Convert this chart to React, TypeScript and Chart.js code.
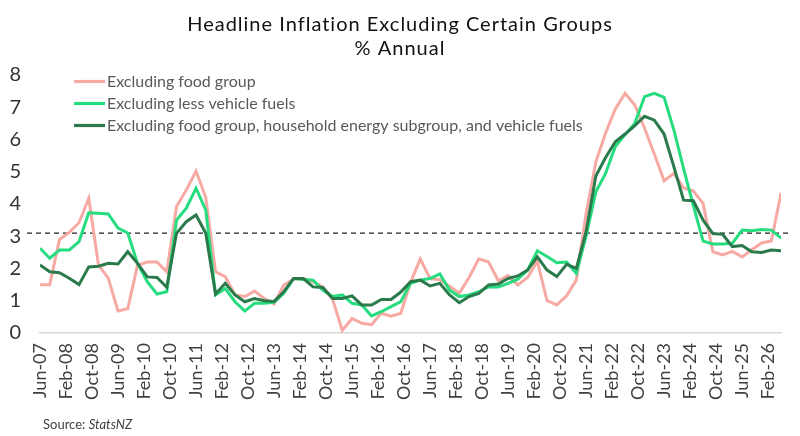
import { useEffect, useRef } from "react";
import { Chart, registerables } from "chart.js";

Chart.register(...registerables);

// ---------- data ----------
const TITLE_LINES = ["Headline Inflation Excluding Certain Groups", "% Annual"];
const SOURCE_PREFIX = "Source: ";
const SOURCE_NAME = "StatsNZ";

const SERIES_NAMES = [
  "Excluding food group",
  "Excluding less vehicle fuels",
  "Excluding food group, household energy subgroup, and vehicle fuels",
];

// Quarterly observations, first one June 2007, last one June 2026
const MONTH_NAMES = ["Jan", "Feb", "Mar", "Apr", "May", "Jun", "Jul", "Aug", "Sep", "Oct", "Nov", "Dec"];
const FIRST_MONTH = 5; // June
const FIRST_YEAR = 2007;
const MONTHS_PER_OBS = 3;

const EXCL_FOOD = [
  1.5, 1.5, 2.9, 3.12, 3.42, 4.18, 2.1, 1.7, 0.68, 0.75,
  2.1, 2.2, 2.2, 1.9, 3.92, 4.43, 5.02, 4.2, 1.9, 1.75,
  1.18, 1.13, 1.3, 1.07, 0.9, 1.49, 1.67, 1.69, 1.59, 1.43,
  1.05, 0.08, 0.45, 0.3, 0.26, 0.61, 0.52, 0.61, 1.57, 2.3,
  1.69, 1.65, 1.45, 1.23, 1.72, 2.3, 2.2, 1.62, 1.78, 1.49,
  1.72, 2.22, 1.0, 0.87, 1.15, 1.64, 3.7, 5.3, 6.2, 6.95,
  7.43, 7.07, 6.35, 5.55, 4.72, 4.95, 4.5, 4.4, 4.02, 2.52,
  2.42, 2.53, 2.36, 2.58, 2.79, 2.85, 4.35,
];

const EXCL_VEHICLE_FUELS = [
  2.63, 2.32, 2.57, 2.57, 2.83, 3.73, 3.71, 3.69, 3.25, 3.1,
  2.16, 1.59, 1.21, 1.28, 3.5, 3.87, 4.49, 3.81, 1.18, 1.38,
  0.97, 0.68, 0.92, 0.92, 0.95, 1.23, 1.69, 1.66, 1.64, 1.33,
  1.13, 1.18, 0.92, 0.87, 0.53, 0.66, 0.82, 0.97, 1.54, 1.64,
  1.69, 1.83, 1.33, 1.13, 1.18, 1.28, 1.43, 1.43, 1.54, 1.67,
  1.95, 2.55, 2.37, 2.18, 2.2, 1.85, 3.0, 4.38, 4.95, 5.78,
  6.15, 6.5, 7.33, 7.43, 7.31, 6.3, 5.1, 3.95, 2.85, 2.76,
  2.76, 2.78, 3.19, 3.17, 3.21, 3.19, 2.94,
];

const EXCL_FOOD_ENERGY_FUELS = [
  2.11, 1.9, 1.87, 1.7, 1.5, 2.05, 2.07, 2.16, 2.14, 2.52,
  2.16, 1.74, 1.72, 1.42, 3.09, 3.45, 3.66, 3.09, 1.21, 1.54,
  1.18, 0.97, 1.07, 1.0, 0.98, 1.28, 1.69, 1.69, 1.43, 1.41,
  1.07, 1.07, 1.15, 0.87, 0.87, 1.04, 1.04, 1.27, 1.59, 1.64,
  1.46, 1.54, 1.18, 0.94, 1.13, 1.23, 1.49, 1.52, 1.69, 1.77,
  1.95, 2.36, 1.95, 1.75, 2.13, 2.0, 3.14, 4.87, 5.44, 5.93,
  6.17, 6.43, 6.72, 6.6, 6.17, 5.16, 4.12, 4.1, 3.5, 3.08,
  3.06, 2.68, 2.71, 2.52, 2.5, 2.57, 2.55,
];

const TICK_LABELS = [
  "Jun-07", "Feb-08", "Oct-08", "Jun-09", "Feb-10", "Oct-10", "Jun-11", "Feb-12",
  "Oct-12", "Jun-13", "Feb-14", "Oct-14", "Jun-15", "Feb-16", "Oct-16", "Jun-17",
  "Feb-18", "Oct-18", "Jun-19", "Feb-20", "Oct-20", "Jun-21", "Feb-22", "Oct-22",
  "Jun-23", "Feb-24", "Oct-24", "Jun-25", "Feb-26",
];
const TICK_STEP_MONTHS = 8;

const Y_MIN = 0;
const Y_MAX = 8;
const Y_STEP = 1;
const REFERENCE_LEVEL = 3.1;

// ---------- styles ----------
const COLORS = ["#F7A9A3", "#25DC7E", "#2B7A4C"];
const FONT = "Lato, 'Noto Sans', sans-serif";

const periodLabel = (i: number) => {
  const m = FIRST_MONTH + i * MONTHS_PER_OBS;
  const month = MONTH_NAMES[m % 12];
  const yr = (FIRST_YEAR + Math.floor(m / 12)) % 100;
  return `${month}-${String(yr).padStart(2, "0")}`;
};

const toPoints = (values: number[]) =>
  values.map((v, i) => ({ x: i * MONTHS_PER_OBS, y: v, period: periodLabel(i) }));

const decorPlugin = {
  id: "decor",
  beforeDatasetsDraw(chart: any) {
    const { ctx, scales } = chart;
    const y = scales.y.getPixelForValue(REFERENCE_LEVEL);
    ctx.save();
    ctx.strokeStyle = "#222";
    ctx.lineWidth = 1.3;
    ctx.setLineDash([5, 4]);
    ctx.beginPath();
    ctx.moveTo(27, y);
    ctx.lineTo(790, y);
    ctx.stroke();
    ctx.restore();
  },
  afterDraw(chart: any) {
    const { ctx } = chart;
    ctx.save();
    // title
    ctx.fillStyle = "#111";
    ctx.font = `20px ${FONT}`;
    ctx.textAlign = "center";
    ctx.textBaseline = "middle";
    (ctx as any).letterSpacing = "1px";
    ctx.fillText(TITLE_LINES[0], 400, 25);
    ctx.fillText(TITLE_LINES[1], 400, 48.5);
    (ctx as any).letterSpacing = "0px";

    // legend
    ctx.font = `16px ${FONT}`;
    ctx.textAlign = "left";
    chart.data.datasets.forEach((ds: any, i: number) => {
      const y = 81.5 + i * 22;
      ctx.strokeStyle = ds.borderColor;
      ctx.lineWidth = 3.2;
      ctx.setLineDash([]);
      ctx.beginPath();
      ctx.moveTo(74, y);
      ctx.lineTo(105, y);
      ctx.stroke();
      ctx.fillStyle = "#595959";
      ctx.fillText(ds.label, 107, y + 0.5);
    });

    // source
    ctx.fillStyle = "#404040";
    ctx.font = `13px ${FONT}`;
    ctx.fillText(SOURCE_PREFIX, 43, 425);
    const w = ctx.measureText(SOURCE_PREFIX).width;
    ctx.font = `italic 13px ${FONT}`;
    ctx.fillText(SOURCE_NAME, 43 + w, 425);
    ctx.restore();
  },
};

export default function App() {
  const canvasRef = useRef<HTMLCanvasElement | null>(null);

  useEffect(() => {
    const canvas = canvasRef.current;
    if (!canvas) return;
    const seriesValues = [EXCL_FOOD, EXCL_VEHICLE_FUELS, EXCL_FOOD_ENERGY_FUELS];
    const drawOrder = [2, 1, 0];
    const chart = new Chart(canvas, {
      type: "line",
      data: {
        datasets: seriesValues.map((vals, i) => ({
          label: SERIES_NAMES[i],
          data: toPoints(vals),
          borderColor: COLORS[i],
          backgroundColor: COLORS[i],
          borderWidth: 3,
          pointRadius: 0,
          tension: 0,
          order: drawOrder[i],
        })),
      },
      options: {
        animation: false,
        responsive: false,
        devicePixelRatio: 1,
        layout: { padding: { top: 75, right: 17, bottom: 0, left: 0 } },
        plugins: {
          legend: { display: false },
          title: { display: false },
          tooltip: { enabled: false },
        },
        scales: {
          x: {
            type: "linear",
            min: 0,
            max: (EXCL_FOOD.length - 1) * MONTHS_PER_OBS,
            grid: { display: false, drawTicks: false },
            border: { display: true, color: "#D9D9D9", width: 1.5 },
            afterFit: (s: any) => {
              s.height = 103;
            },
            afterBuildTicks: (s: any) => {
              s.ticks = TICK_LABELS.map((_, k) => ({ value: k * TICK_STEP_MONTHS }));
            },
            ticks: {
              autoSkip: false,
              maxRotation: 90,
              minRotation: 90,
              padding: 10,
              color: "#404040",
              font: { family: FONT, size: 18 },
              callback: (v: any) => TICK_LABELS[Math.round(Number(v) / TICK_STEP_MONTHS)] ?? "",
            },
          },
          y: {
            min: Y_MIN,
            max: Y_MAX,
            grid: { display: false, drawTicks: false },
            border: { display: false },
            afterFit: (s: any) => {
              s.width = 40;
            },
            ticks: {
              stepSize: Y_STEP,
              padding: 19,
              color: "#333",
              font: { family: FONT, size: 20 },
            },
          },
        },
      },
      plugins: [decorPlugin],
    });
    return () => chart.destroy();
  }, []);

  return (
    <div style={{ position: "fixed", left: 0, top: 0, width: 800, height: 436, background: "#fff" }}>
      <canvas ref={canvasRef} width={800} height={436} style={{ width: 800, height: 436, display: "block" }} />
    </div>
  );
}
